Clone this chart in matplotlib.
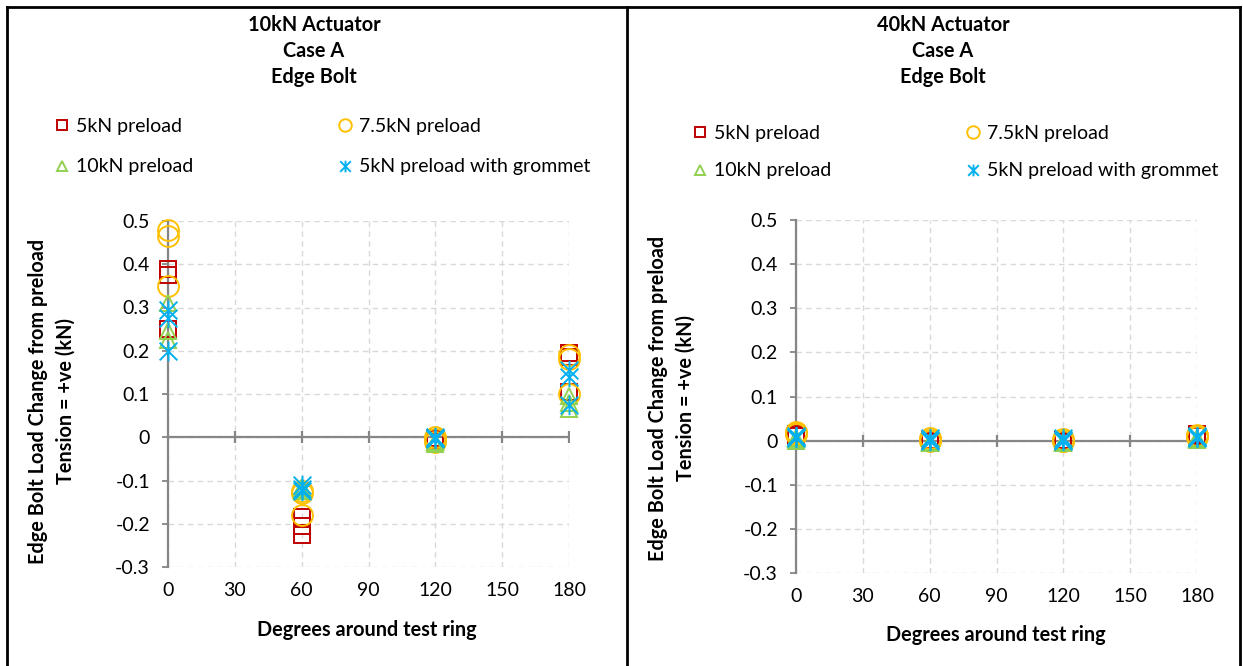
import matplotlib
matplotlib.use("Agg")
import matplotlib.pyplot as plt
from matplotlib.lines import Line2D
from matplotlib.path import Path

plt.rcParams["font.family"] = ["Lato", "DejaVu Sans"]

# angle of each reading (three readings per position)
deg = [0, 0, 0, 60, 60, 60, 120, 120, 120, 180, 180, 180]

# 10kN actuator, case A, edge bolt (kN)
a10_5kn = [0.39, 0.375, 0.25, -0.185, -0.205, -0.225, -0.005, -0.008, -0.002, 0.195, 0.185, 0.105]
a10_75kn = [0.48, 0.465, 0.35, -0.18, -0.13, -0.125, -0.005, -0.01, 0.0, 0.19, 0.18, 0.10]
a10_10kn = [0.31, 0.245, 0.225, -0.115, -0.12, -0.125, -0.015, -0.012, -0.01, 0.095, 0.08, 0.065]
a10_grom = [0.295, 0.275, 0.20, -0.11, -0.12, -0.125, -0.005, -0.002, 0.0, 0.155, 0.14, 0.075]

# 40kN actuator, case A, edge bolt (kN)
a40_5kn = [0.015, 0.01, 0.012, 0.0, 0.002, -0.002, 0.0, 0.002, -0.002, 0.015, 0.012, 0.01]
a40_75kn = [0.02, 0.015, 0.018, 0.005, 0.002, 0.0, 0.0, 0.003, 0.0, 0.012, 0.01, 0.008]
a40_10kn = [0.005, 0.003, 0.0, -0.005, -0.003, -0.006, -0.005, -0.003, -0.006, 0.005, 0.003, 0.002]
a40_grom = [0.01, 0.005, 0.008, 0.005, 0.002, 0.0, 0.005, 0.002, 0.0, 0.01, 0.008, 0.005]

series_names = ["5kN preload", "7.5kN preload", "10kN preload", "5kN preload with grommet"]
x_ticks = [0, 30, 60, 90, 120, 150, 180]
y_ticks = [-0.3, -0.2, -0.1, 0, 0.1, 0.2, 0.3, 0.4, 0.5]
y_tick_labels = ["-0.3", "-0.2", "-0.1", "0", "0.1", "0.2", "0.3", "0.4", "0.5"]

# Excel-style star: an X with a vertical bar through it
STAR = Path([(-1, -1), (1, 1), (-1, 1), (1, -1), (0, -1.1), (0, 1.1)],
            [Path.MOVETO, Path.LINETO] * 3)

STYLES = [
    dict(marker="s", ms=11, mec="#C00000"),
    dict(marker="o", ms=15, mec="#FFC000"),
    dict(marker="^", ms=12, mec="#92D050"),
    dict(marker=STAR, ms=14, mec="#00B0F0"),
]
AXIS_GREY = "#868686"
W, H = 1243, 666
FS = 14
FS_BOLD = 14.3


def px(x, y):
    return x / W, 1 - y / H


def draw_panel(fig, rect, data, title, centre_x, xlabel_y, legend_xy, col2_x, row_gap):
    ax = fig.add_axes(rect)
    for vals, st in zip(data, STYLES):
        ax.plot(deg, vals, ls="none", mfc="none", mew=1.4, clip_on=False, zorder=5, **st)

    ax.set_xlim(0, 180)
    ax.set_ylim(-0.3, 0.5)
    ax.set_xticks(x_ticks)
    ax.set_yticks(y_ticks)
    ax.set_yticklabels(y_tick_labels)
    for s in ["top", "right", "bottom"]:
        ax.spines[s].set_visible(False)
    ax.spines["left"].set_color(AXIS_GREY)
    ax.spines["left"].set_linewidth(1.6)
    ax.tick_params(axis="x", length=0, pad=11, labelsize=FS)
    ax.tick_params(axis="y", length=4, width=1.3, color=AXIS_GREY, pad=9, labelsize=FS)
    ax.grid(True, color="#D9D9D9", linestyle=(0, (4, 3)), linewidth=1)
    ax.set_axisbelow(True)
    # horizontal axis crosses at zero, with ticks crossing it
    ax.axhline(0, color=AXIS_GREY, lw=1.6, zorder=2)
    ax.plot(x_ticks[1:], [0] * 6, ls="none", marker="|", ms=9, mew=1.6,
            color=AXIS_GREY, zorder=2)

    for i, line in enumerate(title):
        fig.text(*px(centre_x, 25 + 26 * i), line, ha="center", va="center",
                 fontsize=FS_BOLD, fontweight="bold")
    fig.text(*px(centre_x + 53, xlabel_y), "Degrees around test ring", ha="center",
             va="center", fontsize=FS_BOLD, fontweight="bold")

    handles = [Line2D([], [], ls="none", mfc="none", mew=1.4, **st) for st in STYLES]
    lx, ly = legend_xy
    for col, xs in enumerate([lx, col2_x]):
        fig.legend(handles[col::2], series_names[col::2], loc="upper left",
                   bbox_to_anchor=px(xs, ly), frameon=False, fontsize=FS,
                   markerscale=0.6, handlelength=0.7, handletextpad=0.4,
                   labelspacing=row_gap, borderpad=0, borderaxespad=0)
    return ax


fig = plt.figure(figsize=(W / 100, H / 100), dpi=100)

draw_panel(fig, [*px(168, 567), 401 / W, 346 / H],
           [a10_5kn, a10_75kn, a10_10kn, a10_grom],
           ["10kN Actuator", "Case A", "Edge Bolt"], 314, 630, (55, 118), 338, 1.2)
draw_panel(fig, [*px(796, 573), 401 / W, 353 / H],
           [a40_5kn, a40_75kn, a40_10kn, a40_grom],
           ["40kN Actuator", "Case A", "Edge Bolt"], 943, 635, (693, 125), 966, 1.05)

ylab = "Edge Bolt Load Change from preload\nTension = +ve (kN)"
fig.text(*px(52, 401), ylab, rotation=90, ha="center", va="center",
         fontsize=FS_BOLD, fontweight="bold", linespacing=1.45)
fig.text(*px(672, 398), ylab, rotation=90, ha="center", va="center",
         fontsize=FS_BOLD, fontweight="bold", linespacing=1.45)

# table borders
for xs in [7, 627, 1240]:
    fig.add_artist(Line2D([xs / W, xs / W], [0, 1 - 7 / H], color="black", lw=2))
fig.add_artist(Line2D([7 / W, 1240 / W], [1 - 7 / H, 1 - 7 / H], color="black", lw=2))

fig.savefig("out.png", dpi=100)
